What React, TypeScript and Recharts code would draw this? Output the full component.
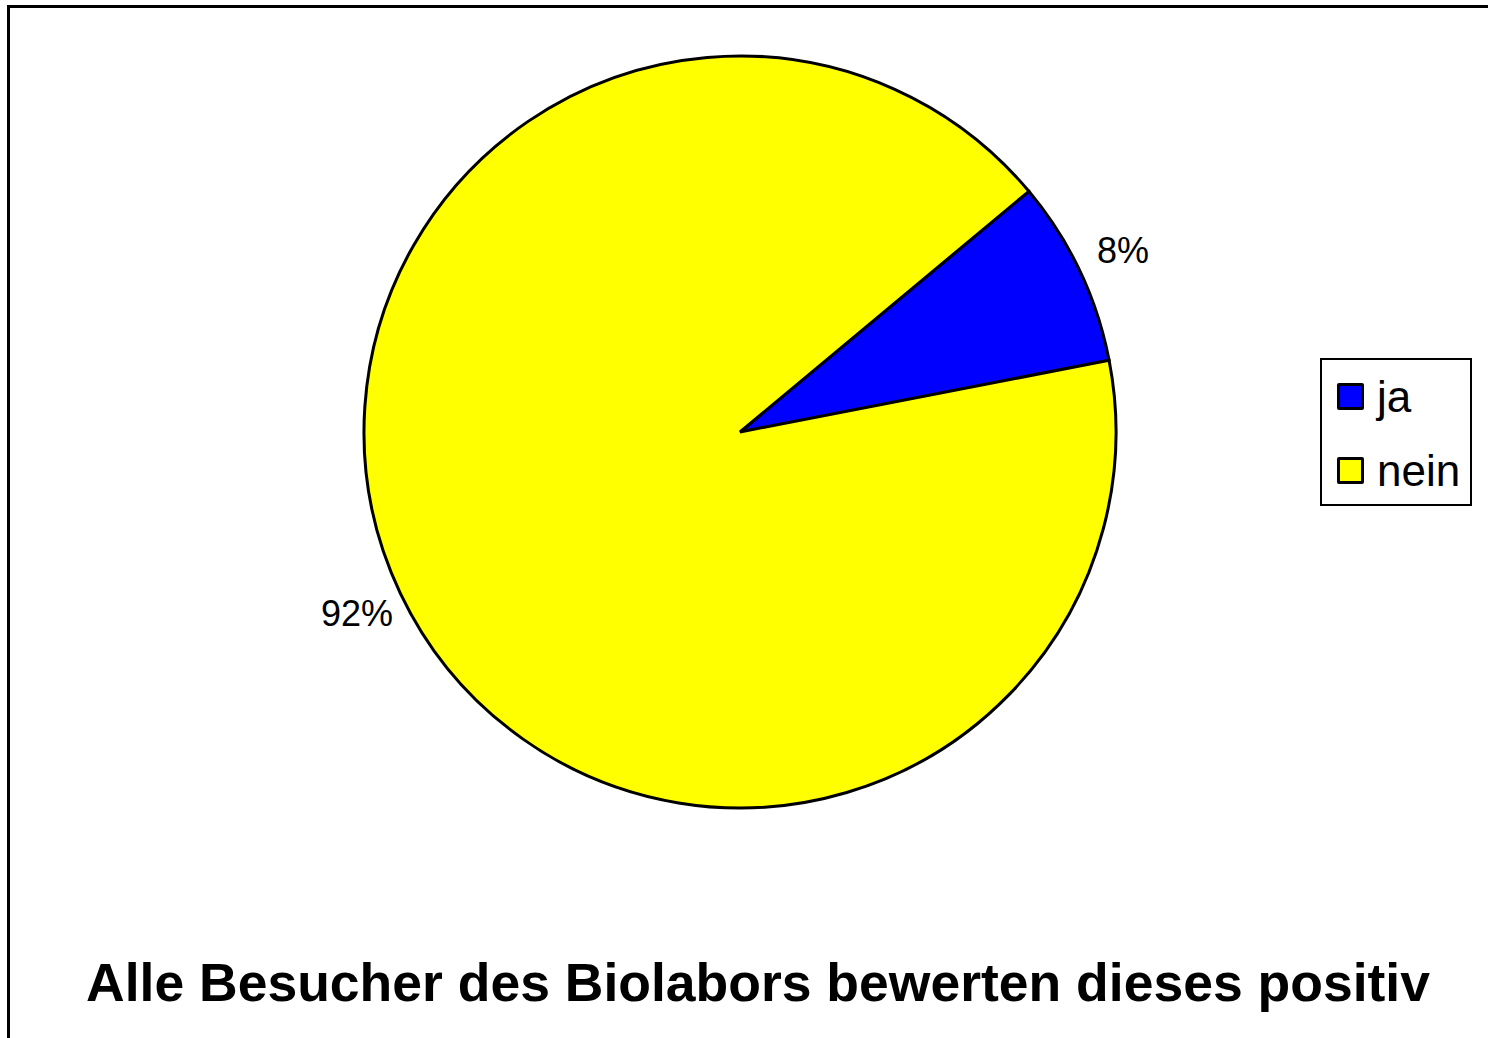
import { PieChart, Pie, Cell, Legend } from 'recharts'

const categories = ['ja', 'nein']
const shares = [8, 92]
const sliceColors = ['#0000FF', '#FFFF00']
const title = 'Alle Besucher des Biolabors bewerten dieses positiv'

const data = categories.map((name, i) => ({ name, value: shares[i] }))

const FONT = '"Liberation Sans", Arial, sans-serif'
const RAD = Math.PI / 180

function renderLabel(props: any) {
  const { cx, cy, midAngle, outerRadius, percent } = props
  const r = outerRadius + 48
  const x = cx + r * Math.cos(-midAngle * RAD)
  const y = cy + r * Math.sin(-midAngle * RAD)
  return (
    <text
      x={x}
      y={y}
      textAnchor="middle"
      dominantBaseline="central"
      fill="#000"
      fontSize={36}
      fontFamily={FONT}
    >
      {`${Math.round(percent * 100)}%`}
    </text>
  )
}

function LegendBox() {
  return (
    <div
      style={{
        width: 152,
        height: 148,
        border: '2px solid #000',
        background: '#fff',
        boxSizing: 'border-box',
        fontFamily: FONT,
        paddingTop: 18,
      }}
    >
      {categories.map((c, i) => (
        <div key={c} style={{ display: 'flex', alignItems: 'center', height: 37, marginBottom: 37 }}>
          <span
            style={{
              display: 'inline-block',
              width: 27,
              height: 27,
              marginLeft: 15,
              marginRight: 13,
              background: sliceColors[i],
              border: '3px solid #000',
              boxSizing: 'border-box',
              borderRadius: 2,
            }}
          />
          <span style={{ fontSize: 44, lineHeight: '37px', color: '#000' }}>{c}</span>
        </div>
      ))}
    </div>
  )
}

export default function App() {
  return (
    <div style={{ position: 'absolute', left: 0, top: 0, width: 1488, height: 1038, background: '#fff', overflow: 'hidden' }}>
      <div
        style={{
          position: 'absolute',
          left: 7,
          top: 5,
          width: 1500,
          height: 1100,
          borderLeft: '3px solid #000',
          borderTop: '3px solid #000',
        }}
      />
      <div style={{ position: 'absolute', left: 0, top: 0 }}>
        <PieChart width={1488} height={1038} margin={{ top: 0, right: 0, bottom: 0, left: 0 }}>
          <Pie
            data={data}
            dataKey="value"
            nameKey="name"
            cx={740}
            cy={432}
            outerRadius={376}
            startAngle={11}
            endAngle={371}
            stroke="#000"
            strokeWidth={3}
            label={renderLabel}
            labelLine={false}
            isAnimationActive={false}
          >
            {data.map((d, i) => (
              <Cell key={d.name} fill={sliceColors[i]} />
            ))}
          </Pie>
          <Legend
            content={() => <LegendBox />}
            wrapperStyle={{ position: 'absolute', left: 1320, top: 358, width: 152 }}
          />
        </PieChart>
      </div>
      <div
        style={{
          position: 'absolute',
          left: 0,
          width: 1516,
          top: 952,
          textAlign: 'center',
          fontFamily: FONT,
          fontWeight: 'bold',
          fontSize: 53.5,
          color: '#000',
          whiteSpace: 'nowrap',
        }}
      >
        {title}
      </div>
    </div>
  )
}
